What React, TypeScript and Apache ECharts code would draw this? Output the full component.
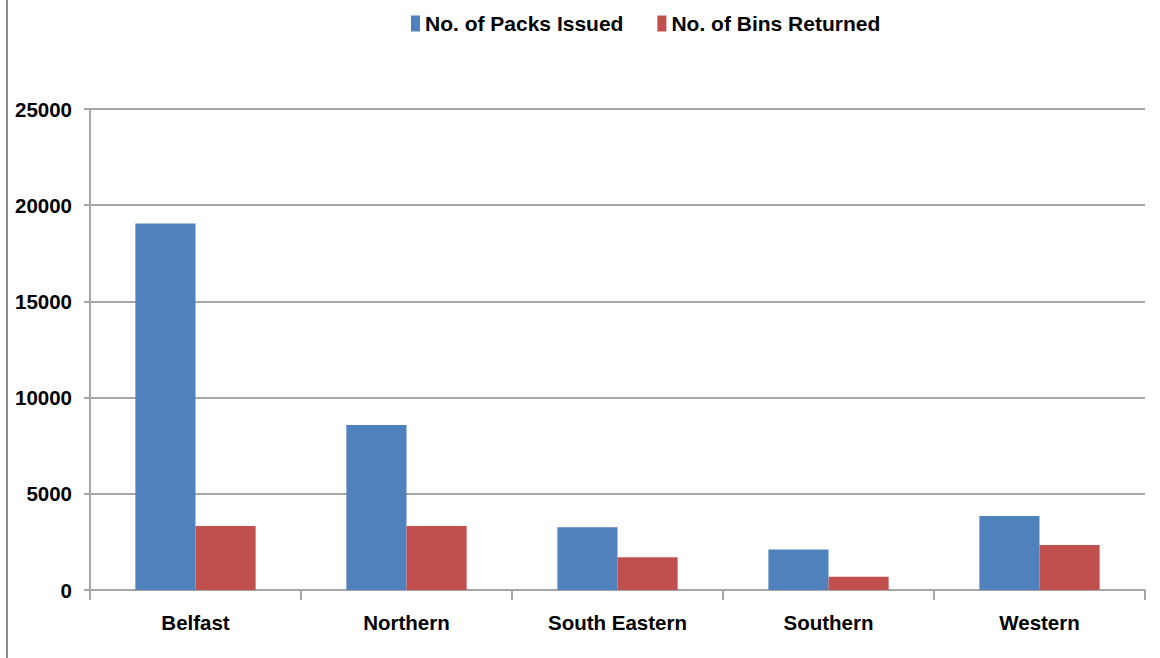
import React, { useEffect, useRef } from "react";
import * as echarts from "echarts";

const categories = ["Belfast", "Northern", "South Eastern", "Southern", "Western"];
const packsIssued = [19050, 8580, 3260, 2110, 3850];
const binsReturned = [3330, 3330, 1700, 690, 2340];
const seriesNames = ["No. of Packs Issued", "No. of Bins Returned"];

const FONT = "'Liberation Sans', Arial, sans-serif";
const FS = 20.5;

export default function App() {
  const ref = useRef<HTMLDivElement>(null);
  useEffect(() => {
    document.body.style.margin = "0";
    const chart = echarts.init(ref.current!, null, { renderer: "svg" });
    chart.setOption({
      animation: false,
      backgroundColor: "#ffffff",
      textStyle: { fontFamily: FONT },
      legend: {
        top: 8,
        left: 406,
        itemWidth: 9,
        itemHeight: 16,
        itemGap: 34,
        icon: "rect",
        textStyle: { fontFamily: FONT, fontSize: 21, fontWeight: "bold", color: "#000" },
        data: seriesNames,
      },
      graphic: [
        {
          type: "line",
          shape: { x1: 7, y1: 0, x2: 7, y2: 658 },
          style: { stroke: "#8c8c8c", lineWidth: 2 },
        },
      ],
      grid: { left: 90, right: 15, top: 109, bottom: 68, containLabel: false, outerBoundsMode: "none" },
      xAxis: {
        type: "category",
        data: categories,
        axisLine: { show: true, lineStyle: { color: "#a6a6a6", width: 2 } },
        axisTick: { show: true, length: 10, alignWithLabel: false, lineStyle: { color: "#a6a6a6", width: 2 } },
        axisLabel: { interval: 0, margin: 22, fontFamily: FONT, fontSize: FS, fontWeight: "bold", color: "#000" },
        splitLine: { show: false },
      },
      yAxis: {
        type: "value",
        min: 0,
        max: 25000,
        interval: 5000,
        axisLine: { show: true, lineStyle: { color: "#a6a6a6", width: 2 } },
        axisTick: { show: true, length: 6, lineStyle: { color: "#a6a6a6", width: 2 } },
        axisLabel: {
          margin: 18,
          fontFamily: FONT,
          fontSize: FS,
          fontWeight: "bold",
          color: "#000",
          formatter: (v: number) => String(v),
        },
        splitLine: { show: true, lineStyle: { color: "#a6a6a6", width: 2 } },
      },
      series: [
        {
          name: seriesNames[0],
          type: "bar",
          data: packsIssued,
          barGap: "0%",
          barCategoryGap: "43%",
          itemStyle: { color: "#4F81BD" },
        },
        {
          name: seriesNames[1],
          type: "bar",
          data: binsReturned,
          barGap: "0%",
          barCategoryGap: "43%",
          itemStyle: { color: "#C0504D" },
        },
      ],
    });
    return () => chart.dispose();
  }, []);
  return <div ref={ref} style={{ position: "fixed", left: 0, top: 0, width: 1160, height: 658 }} />;
}
